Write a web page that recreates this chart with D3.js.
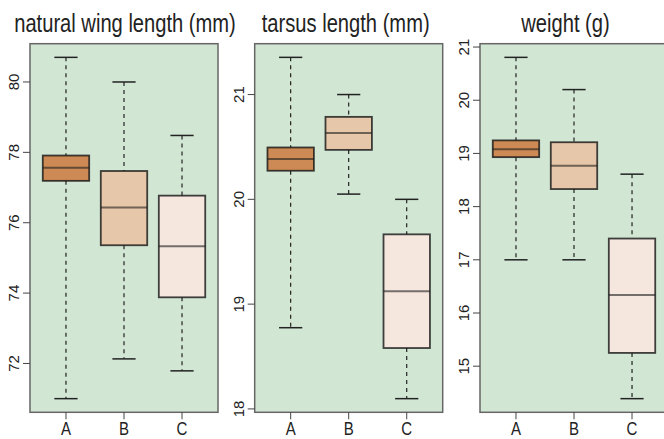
<!DOCTYPE html>
<html>
<head>
<meta charset="utf-8">
<script src="https://cdn.jsdelivr.net/npm/d3@7"></script>
<style>
  body { margin: 0; background: #fff; }
  svg { display: block; }
  text { font-family: "Liberation Sans", Arial, sans-serif; fill: #222; }
</style>
</head>
<body>
<svg id="chart" width="664" height="439"></svg>
<script>
// groups on the x axis
const groups = ['A', 'B', 'C'];

// box stats per group: [lower whisker, q1, median, q3, upper whisker]
const wingStats = [
  [71.0, 77.19, 77.56, 77.91, 80.70],
  [72.13, 75.36, 76.43, 77.47, 80.0],
  [71.79, 73.88, 75.33, 76.77, 78.48]
];
const tarsusStats = [
  [18.775, 20.273, 20.384, 20.495, 21.355],
  [20.05, 20.472, 20.634, 20.787, 21.0],
  [18.098, 18.581, 19.124, 19.666, 20.0]
];
const weightStats = [
  [17.0, 18.93, 19.08, 19.245, 20.806],
  [17.0, 18.33, 18.77, 19.21, 20.2],
  [14.39, 15.25, 16.34, 17.40, 18.61]
];

const wingTicks = [72, 74, 76, 78, 80];
const tarsusTicks = [18, 19, 20, 21];
const weightTicks = [15, 16, 17, 18, 19, 20, 21];

const titles = ['natural wing length (mm)', 'tarsus length (mm)', 'weight (g)'];
const fills = ['#cd8a54', '#e7c7a9', '#f5e6de'];

const panels = [
  {title: titles[0], stats: wingStats, ticks: wingTicks, left: 30, titleDx: 1},
  {title: titles[1], stats: tarsusStats, ticks: tarsusTicks, left: 254.7, titleDx: -3},
  {title: titles[2], stats: weightStats, ticks: weightTicks, left: 480, titleDx: -8.5}
];

const svg = d3.select('#chart');
const plotTop = 43.7, plotBottom = 412.3, pw = 188;
const narrow = 0.79;   // squeeze to look like a narrow face

panels.forEach(function(p) {
  const g = svg.append('g');

  // R style range: data extent padded by 4%
  const lo = d3.min(p.stats, d => d[0]);
  const hi = d3.max(p.stats, d => d[4]);
  const pad = (hi - lo) * 0.04;
  const y = d3.scaleLinear().domain([lo - pad, hi + pad]).range([plotBottom, plotTop]);
  const x = d3.scaleLinear().domain([0.5 - 0.12, 3.5 + 0.12]).range([p.left, p.left + pw]);
  const unit = x(2) - x(1);
  const bw = unit * 0.8;

  g.append('rect')
    .attr('x', p.left).attr('y', plotTop)
    .attr('width', pw).attr('height', plotBottom - plotTop)
    .attr('fill', '#d2e6d4');

  p.stats.forEach(function(s, i) {
    const cx = x(i + 1);
    // whiskers
    g.append('line')
      .attr('x1', cx).attr('x2', cx)
      .attr('y1', y(s[4])).attr('y2', y(s[3]))
      .attr('stroke', '#111').attr('stroke-width', 1.1)
      .attr('stroke-dasharray', '4,4');
    g.append('line')
      .attr('x1', cx).attr('x2', cx)
      .attr('y1', y(s[1])).attr('y2', y(s[0]))
      .attr('stroke', '#111').attr('stroke-width', 1.1)
      .attr('stroke-dasharray', '4,4');
    // staples
    [s[0], s[4]].forEach(function(v) {
      g.append('line')
        .attr('x1', cx - bw / 4).attr('x2', cx + bw / 4)
        .attr('y1', y(v)).attr('y2', y(v))
        .attr('stroke', '#222').attr('stroke-width', 1.5);
    });
    // box
    g.append('rect')
      .attr('x', cx - bw / 2).attr('y', y(s[3]))
      .attr('width', bw).attr('height', y(s[1]) - y(s[3]))
      .attr('fill', fills[i])
      .attr('stroke', 'rgba(20,20,20,0.8)').attr('stroke-width', 1.8);
    g.append('line')
      .attr('x1', cx - bw / 2).attr('x2', cx + bw / 2)
      .attr('y1', y(s[2])).attr('y2', y(s[2]))
      .attr('stroke', 'rgba(30,30,30,0.6)').attr('stroke-width', 2);
  });

  // frame
  g.append('rect')
    .attr('x', p.left).attr('y', plotTop)
    .attr('width', pw).attr('height', plotBottom - plotTop)
    .attr('fill', 'none')
    .attr('stroke', '#666').attr('stroke-width', 1.5);

  // y axis
  p.ticks.forEach(function(t) {
    g.append('line')
      .attr('x1', p.left - 7).attr('x2', p.left)
      .attr('y1', y(t)).attr('y2', y(t))
      .attr('stroke', '#444').attr('stroke-width', 1);
    g.append('text')
      .attr('transform', 'translate(' + (p.left - 11) + ',' + y(t) + ') rotate(-90)')
      .attr('text-anchor', 'middle')
      .attr('font-size', 15)
      .text(t);
  });

  // x axis
  groups.forEach(function(name, i) {
    g.append('line')
      .attr('x1', x(i + 1)).attr('x2', x(i + 1))
      .attr('y1', plotBottom).attr('y2', plotBottom + 7)
      .attr('stroke', '#444').attr('stroke-width', 1);
    g.append('text')
      .attr('transform', 'translate(' + x(i + 1) + ',435) scale(' + narrow + ',1)')
      .attr('text-anchor', 'middle')
      .attr('font-size', 19)
      .text(name);
  });

  g.append('text')
    .attr('transform', 'translate(' + (p.left + pw / 2 + p.titleDx) + ',31.7) scale(' + narrow + ',1)')
    .attr('text-anchor', 'middle')
    .attr('font-size', 25.5)
    .text(p.title);
});
</script>
</body>
</html>
